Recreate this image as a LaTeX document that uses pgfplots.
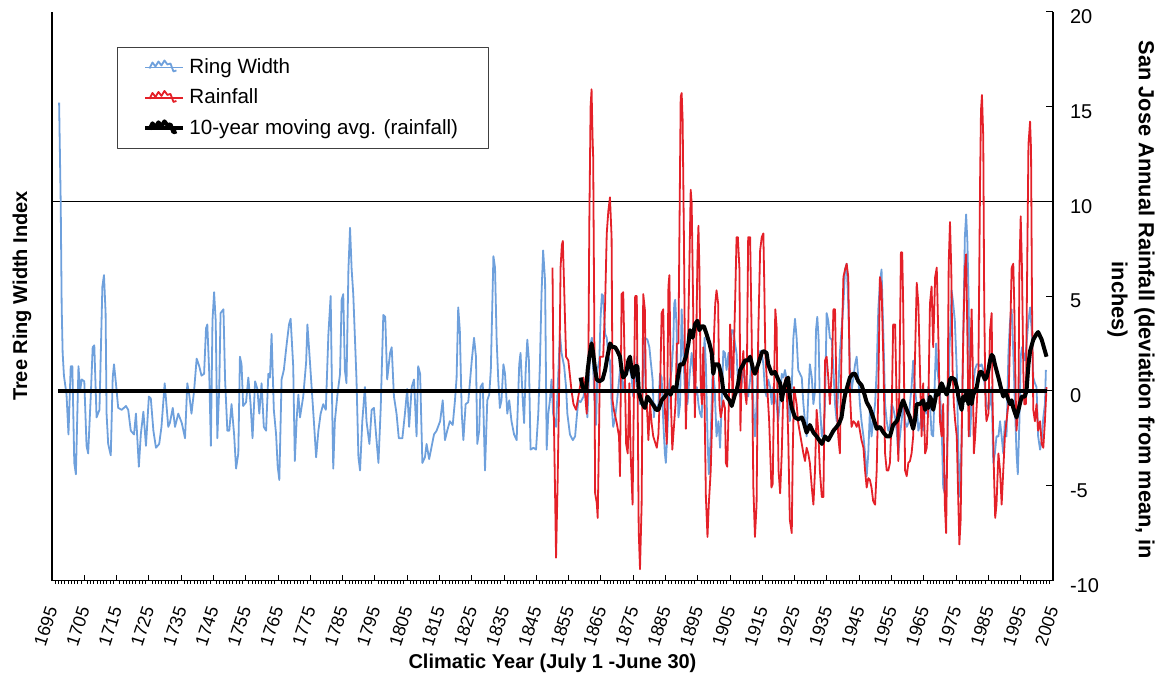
\documentclass[border=0pt]{standalone}
\usepackage{fontspec}
\setmainfont{Liberation Sans}
\usepackage{pgfplots}
\pgfplotsset{compat=1.18}
\definecolor{ringblue}{RGB}{110,160,220}
\definecolor{rainred}{RGB}{228,32,40}
\begin{document}
\begin{tikzpicture}
\useasboundingbox (-26pt,-48.25pt) rectangle (552.5pt,290.25pt);
\begin{axis}[
  at={(0,0)}, anchor=south west,
  scale only axis, width=500.5pt, height=284.5pt,
  xmin=1695, xmax=2005, ymin=-10, ymax=20,
  axis x line*=bottom, axis y line*=left,
  axis line style={black, line width=0.6pt, -},
  ytick=\empty,
  xtick={1695,1705,...,2005},
  minor x tick num=9,
  tick align=inside,
  major tick length=3pt,
  minor tick length=1.8pt,
  minor tick style={yshift=-1.8pt},
  tick style={black, line width=0.5pt},
  xticklabel style={font=\fontsize{9}{11}\selectfont, xshift=1pt, yshift=-10pt, rotate=72, anchor=east},
  /pgf/number format/1000 sep={},
  /pgf/number format/assume math mode=true,
  xlabel={Climatic Year (July 1 -June 30)},
  every axis x label/.style={at={(axis description cs:0.5,-0.146)}, anchor=center, font=\fontsize{10}{12}\selectfont\bfseries},
  ylabel={Tree Ring Width Index},
  every axis y label/.style={at={(axis description cs:-0.030,0.5)}, anchor=center, rotate=90, font=\fontsize{10}{12}\selectfont\bfseries},
  legend style={at={(axis description cs:0.0649,0.9376)}, anchor=north west, draw=black!75, line width=0.5pt, fill=white,
    font=\fontsize{10.3}{12.4}\selectfont, inner xsep=13pt, inner ysep=3.5pt, row sep=2.25pt, cells={anchor=west}},
  legend image code/.code={\path (-2pt,0) -- (17pt,0); \draw[#1] (0pt,-0.5pt) -- (1.5pt,2.5pt) -- (3pt,0.5pt) -- (4.5pt,3pt) -- (6pt,1pt) -- (7.5pt,3.5pt) -- (9pt,1.5pt) -- (10.5pt,2pt) -- (12pt,-2pt) -- (13.5pt,-1.5pt);},
  line join=round,
]
\draw[black, line width=0.5pt] (axis cs:1695,10) -- (axis cs:2005,10);
% Ring width
\addplot[ringblue, line width=0.9pt] coordinates {
(1697.2,15.2) (1697.7,9.9) (1698.0,4.4) (1698.3,2.0) (1698.7,0.8) (1699.5,-0.2) (1700.1,-2.3) (1700.8,1.3) (1701.3,1.3) (1701.9,-3.8) (1702.4,-4.4) (1703.2,1.3) (1703.7,0.0) (1704.2,0.6) (1705.0,0.5) (1705.7,-2.9) (1706.2,-3.3) (1707.0,-0.3) (1707.6,2.3) (1708.1,2.4) (1708.8,-1.4) (1709.7,-1.0) (1710.6,5.5) (1711.1,6.1) (1711.6,4.1) (1711.9,-1.2) (1712.4,-2.8) (1713.2,-3.4) (1713.8,0.7) (1714.2,1.4) (1714.8,0.4) (1715.5,-0.9) (1716.6,-1.0) (1717.9,-0.8) (1718.6,-1.0) (1719.4,-2.1) (1720.4,-2.3) (1721.0,-1.2) (1721.9,-4.0) (1722.5,-2.3) (1723.3,-1.1) (1724.1,-2.9) (1725.0,-0.3) (1725.6,-0.4) (1726.4,-2.1) (1727.2,-3.0) (1728.2,-2.8) (1728.9,-1.9) (1729.9,0.4) (1731.0,-1.9)
(1731.5,-1.7) (1732.4,-0.9) (1733.1,-1.9) (1734.1,-1.2) (1735.2,-1.7) (1736.2,-2.5) (1736.9,0.4) (1737.5,-0.2) (1738.2,-1.2) (1739.0,0.0) (1739.8,1.7) (1740.6,1.3) (1741.3,0.8) (1742.1,0.9) (1742.7,3.3) (1743.1,3.5) (1743.7,0.9) (1744.2,-2.9) (1744.7,3.7) (1745.2,5.2) (1745.7,3.7) (1746.2,-2.5) (1746.8,0.2) (1747.2,4.1) (1748.1,4.3) (1748.6,0.6) (1749.3,-2.1) (1749.9,-2.1) (1750.6,-0.7) (1751.4,-2.3) (1752.0,-4.1) (1752.7,-3.3) (1753.2,1.8) (1753.7,1.4) (1754.2,-0.8) (1755.1,-0.6) (1755.8,0.7) (1756.5,-0.7) (1757.1,-2.5) (1757.9,0.5) (1758.6,0.1) (1759.2,-1.2) (1759.9,0.4) (1760.6,-1.9) (1761.3,-2.1) (1762.0,0.9) (1762.5,0.7) (1763.0,3.0) (1763.7,-1.0) (1764.4,-2.3) (1764.9,-4.0) (1765.4,-4.7) (1766.1,0.6) (1766.8,1.1) (1767.7,2.5) (1768.4,3.5) (1768.9,3.8) (1769.7,1.3) (1770.2,-3.7) (1770.8,-1.4) (1771.3,-0.2)
(1771.8,-1.4) (1772.8,-0.3) (1773.7,1.5) (1774.1,3.5) (1774.7,2.0) (1775.4,0.2) (1776.1,-1.6) (1776.8,-3.5) (1777.5,-2.1) (1778.2,-1.2) (1779.0,-0.7) (1779.8,-1.0) (1780.6,3.0) (1781.3,5.0) (1781.8,-1.2) (1782.1,-4.1) (1782.6,-1.6) (1783.4,-0.2) (1784.2,0.9) (1784.7,4.8) (1785.2,5.1) (1785.7,1.1) (1786.2,0.4) (1786.8,6.4) (1787.3,8.6) (1787.8,6.4) (1788.3,5.1) (1789.3,0.6) (1789.9,-3.5) (1790.4,-4.2) (1791.1,-1.6) (1791.9,0.2) (1792.4,-1.6) (1793.3,-2.8) (1794.0,-1.0) (1794.7,-0.9) (1795.5,-2.6) (1796.1,-3.8) (1796.8,-0.9) (1797.6,4.0) (1798.2,3.9) (1798.8,0.6) (1799.7,2.0) (1800.2,2.3) (1800.9,-0.3) (1801.7,-1.2) (1802.4,-2.5) (1803.5,-2.5) (1804.3,-1.2) (1805.0,0.1) (1805.6,-1.9) (1806.4,0.2) (1807.1,0.6) (1807.9,-2.4) (1808.4,1.3) (1809.0,0.9) (1809.7,-3.8) (1810.5,-3.5) (1811.0,-2.8) (1811.8,-3.6)
(1813.3,-2.3) (1814.1,-2.1) (1815.2,-1.6) (1816.0,-0.5) (1816.7,-2.6) (1817.4,-2.1) (1818.2,-1.6) (1819.1,-1.8) (1819.8,-0.5) (1820.3,0.7) (1820.8,4.4) (1821.3,3.2) (1821.9,-1.2) (1822.4,-2.6) (1823.1,-0.7) (1823.9,-0.6) (1825.0,1.6) (1825.7,2.8) (1826.3,1.8) (1826.7,-2.8) (1827.3,-2.1) (1827.7,0.2) (1828.4,0.4) (1829.1,-4.2) (1829.8,-0.5) (1830.4,-0.2) (1830.9,1.1) (1831.7,7.1) (1832.2,6.5) (1832.7,2.7) (1833.2,0.6) (1833.7,-0.9) (1834.2,-0.5) (1834.8,1.4) (1835.3,0.9) (1836.0,-1.2) (1836.6,-0.5) (1837.3,-1.6) (1838.1,-2.3) (1838.9,-2.6) (1839.7,1.4) (1840.1,2.0) (1840.7,-0.2) (1841.2,-1.7) (1841.7,1.1) (1842.2,2.7) (1842.7,1.6) (1843.2,-3.1) (1844.1,-3.0) (1844.9,-3.1) (1845.6,-1.2) (1846.1,1.4) (1846.6,5.1) (1847.1,7.4) (1847.7,5.8) (1848.2,-3.1) (1848.7,-1.2) (1849.2,-0.5) (1849.7,0.6) (1850.2,-1.2) (1851.1,-1.9) (1851.8,0.9) (1852.3,3.0) (1852.8,2.0)
(1853.6,1.3) (1854.2,0.2) (1854.6,-1.2) (1855.4,-2.3) (1856.3,-2.6) (1857.0,-2.4) (1857.5,-1.4) (1858.0,-0.5) (1858.7,-0.6) (1859.6,-0.3) (1860.1,0.2) (1860.8,-1.4) (1861.4,1.1) (1861.8,2.5) (1862.2,2.8) (1862.6,1.1) (1863.1,-0.7) (1863.5,-1.8) (1863.9,1.1) (1864.5,1.6) (1864.9,3.9) (1865.3,5.1) (1865.7,5.0) (1866.3,3.0) (1866.8,2.8) (1867.3,1.8) (1867.8,1.6) (1868.3,-0.7) (1868.8,-1.9) (1869.4,-1.4) (1869.9,-0.7) (1870.4,0.2) (1870.9,1.1) (1871.4,0.7) (1871.9,0.0) (1872.4,0.7) (1872.9,0.9) (1873.8,1.3) (1874.5,0.7) (1875.0,-0.3) (1875.6,0.6) (1876.1,1.8) (1876.6,0.0) (1877.1,-0.7) (1877.6,-0.5) (1878.1,0.2) (1878.6,2.8) (1879.4,2.7) (1880.0,2.3) (1880.4,1.6) (1881.0,0.6) (1881.4,-1.4) (1881.7,-0.7) (1882.3,-1.0) (1882.8,-0.7) (1883.3,0.9) (1883.8,0.7) (1884.3,-1.6) (1884.8,-3.3) (1885.1,-3.8) (1885.6,-2.1) (1886.2,0.4) (1886.9,1.1) (1887.4,2.5) (1887.7,4.6) (1888.0,4.8) (1888.4,3.5) (1889.0,-1.4) (1889.5,-0.7)
(1890.0,4.3) (1890.5,2.0) (1891.0,0.0) (1891.8,-0.7) (1892.6,1.1) (1893.1,2.0) (1893.6,1.1) (1894.1,-0.3) (1894.7,0.2) (1895.2,-0.7) (1895.7,-1.2) (1896.2,-1.4) (1896.7,1.1) (1897.1,2.8) (1897.5,1.4) (1898.0,-2.4) (1898.4,-4.4) (1899.0,-2.4) (1899.6,1.1) (1900.2,0.2) (1900.8,-2.4) (1901.4,-1.6) (1901.9,-3.0) (1902.4,-0.7) (1902.9,2.1) (1903.4,2.0) (1903.9,1.1) (1904.5,2.0) (1905.0,0.7) (1905.5,3.2) (1906.0,3.2) (1906.5,2.5) (1907.0,2.0) (1907.5,0.2) (1908.1,-0.3) (1908.6,0.4) (1909.1,1.1) (1909.6,0.6) (1910.1,0.0) (1910.6,-0.3) (1911.2,0.6) (1911.7,2.0) (1912.2,-0.7) (1912.7,-2.4) (1913.2,-0.7) (1913.7,2.0) (1914.3,2.1) (1914.8,2.0) (1915.3,1.4) (1915.8,0.0) (1916.3,-0.3) (1916.8,0.6) (1917.4,0.2) (1917.9,-0.7) (1918.4,0.2) (1918.9,-0.3) (1919.4,-0.7) (1919.9,-1.6) (1920.5,-0.3) (1921.0,0.9) (1921.5,0.7) (1922.0,1.1) (1922.5,0.6) (1923.0,-0.7) (1923.5,-1.6) (1924.1,0.2) (1924.6,2.8) (1925.1,3.8) (1925.6,2.8) (1926.1,1.1)
(1927.2,0.7) (1927.7,-0.7) (1928.2,-1.6) (1928.7,-2.4) (1929.2,-0.3) (1929.7,1.4) (1930.3,0.7) (1930.8,-0.7) (1931.3,0.0) (1931.6,3.2) (1932.0,3.9) (1932.4,2.8) (1932.8,-0.7) (1933.4,-2.4) (1933.9,-2.1) (1934.4,-0.7) (1934.9,4.1) (1935.4,3.7) (1935.9,2.8) (1936.5,2.7) (1937.0,1.1) (1937.5,-0.7) (1938.0,-1.6) (1938.5,0.0) (1939.0,2.0) (1939.5,3.2) (1940.1,4.6) (1940.6,6.4) (1941.1,6.7) (1941.6,4.6) (1942.1,1.1) (1942.6,0.0) (1943.2,0.7) (1943.7,1.4) (1944.2,1.8) (1944.7,0.7) (1945.2,-0.7) (1945.7,-1.6) (1946.3,-2.4) (1946.8,-3.3) (1947.3,-4.5) (1947.8,-3.3) (1948.3,-1.0) (1948.8,-2.4) (1949.3,-1.6) (1949.9,-0.7) (1950.4,1.1) (1950.9,4.3) (1951.4,5.7) (1951.9,6.4) (1952.5,2.8) (1953.0,-0.7) (1953.5,-1.6) (1954.0,-2.1) (1954.5,-1.9) (1955.0,-0.7) (1955.5,-0.9) (1956.1,-1.4) (1956.6,-2.1) (1957.1,-3.3) (1957.6,-2.4) (1958.1,-1.6) (1958.6,-0.7) (1959.2,-1.6) (1959.7,-1.9) (1960.2,-1.7) (1960.7,-0.7) (1961.2,0.2) (1961.7,1.6) (1962.3,0.0) (1962.8,-0.7) (1963.3,-2.1)
(1964.3,-1.4) (1964.8,-2.1) (1965.4,-0.7) (1965.9,-1.2) (1966.4,0.2) (1966.9,-0.7) (1967.4,-2.3) (1967.9,-2.4) (1968.5,1.1) (1968.8,2.5) (1969.2,1.1) (1969.8,0.2) (1970.2,-0.7) (1970.6,-2.4) (1971.0,-5.1) (1971.5,-5.4) (1972.1,-4.2) (1972.6,-0.7) (1972.9,2.0) (1973.3,3.7) (1973.6,5.3) (1974.1,4.6) (1974.6,3.7) (1975.2,1.1) (1975.7,-3.3) (1976.2,-5.6) (1976.7,-2.4) (1977.2,2.8) (1977.7,8.1) (1978.1,9.3) (1978.5,7.8) (1978.9,4.6) (1979.3,-2.4) (1979.8,-0.7) (1980.3,0.2) (1980.8,1.1) (1981.4,1.4) (1981.9,1.4) (1982.4,1.3) (1982.9,1.4) (1983.4,1.1) (1983.9,0.2) (1984.4,-0.7) (1985.0,-1.0) (1985.5,-0.7) (1986.0,0.2) (1986.5,-3.8) (1987.0,-3.3) (1987.5,-2.4) (1988.1,-2.4) (1988.6,-1.6) (1989.1,-2.4) (1989.6,-3.3) (1990.1,-1.6) (1990.6,-2.4) (1991.2,2.0) (1991.7,3.7) (1992.2,4.3) (1992.7,2.0) (1993.2,-0.7) (1993.7,-3.3) (1994.1,-4.4) (1994.6,-1.6) (1995.0,1.8) (1995.4,2.3) (1995.8,2.0) (1996.3,1.6) (1996.8,2.5) (1997.4,3.7) (1997.9,4.4) (1998.4,3.2) (1998.9,0.7) (1999.4,0.4) (1999.9,0.2) (2000.4,-2.4) (2001.0,-3.1) (2001.5,-2.6) (2002.0,-1.4) (2002.5,-0.7) (2002.8,1.1)
};
\addlegendentry{Ring Width}
% Rainfall
\addplot[rainred, line width=0.9pt] coordinates {
(1850.0,6.5) (1850.4,-1.2) (1850.9,-6.5) (1851.1,-8.8) (1851.6,-4.7) (1852.1,0.6) (1852.5,6.5) (1852.9,7.7) (1853.2,7.9) (1853.6,5.5) (1854.2,1.8) (1854.9,1.6) (1855.9,0.0) (1856.5,-0.7) (1857.3,-1.0) (1858.0,-0.3) (1858.7,0.4) (1859.6,0.7) (1860.1,-0.2) (1860.6,-1.2) (1861.1,1.1) (1861.4,8.8) (1861.8,15.0) (1862.1,15.9) (1862.4,13.4) (1862.6,12.3) (1862.9,4.6) (1863.2,-5.4) (1863.7,-5.9) (1864.0,-6.7) (1864.4,-2.4) (1864.7,1.8) (1865.7,1.8) (1866.3,4.6) (1866.8,8.3) (1867.3,9.5) (1867.8,10.2) (1868.3,8.1) (1868.6,-0.5) (1869.0,-1.0) (1869.9,-1.7) (1870.6,-2.4) (1870.9,-4.5) (1871.4,5.1) (1871.9,5.2) (1872.4,1.1) (1872.8,-2.8) (1873.3,-3.3) (1873.8,0.4) (1874.2,-3.3) (1874.8,-6.0) (1875.2,-0.3) (1875.6,5.0) (1876.1,5.0) (1876.4,-1.0) (1876.7,-7.4) (1877.1,-9.4) (1877.6,-6.0) (1878.1,5.1) (1878.6,4.3) (1878.9,0.2) (1879.4,-1.4) (1879.7,-2.6) (1880.2,-0.7) (1880.7,-1.7) (1881.2,-2.4) (1882.3,-3.0) (1882.8,-2.3) (1883.3,0.0) (1883.8,4.1) (1884.3,4.3) (1884.8,-1.0) (1885.4,-2.8) (1885.9,5.5) (1886.2,6.1) (1886.7,-0.7) (1887.1,-3.1) (1887.6,-1.9) (1888.1,-0.7) (1888.5,2.5) (1889.0,2.5) (1889.3,8.1) (1889.7,15.5)
(1890.0,15.7) (1890.3,14.3) (1890.7,8.1) (1891.0,2.0) (1891.3,-2.0) (1891.8,1.1) (1892.3,5.7) (1892.8,10.6) (1893.1,9.9) (1893.4,6.4) (1893.8,1.4) (1894.1,-1.4) (1894.4,1.1) (1894.9,7.2) (1895.2,8.7) (1895.5,6.4) (1895.9,0.2) (1896.3,-0.7) (1896.7,2.3) (1897.1,-0.7) (1897.5,-5.6) (1898.0,-7.7) (1898.4,-6.0) (1899.0,-4.2) (1899.6,-0.5) (1900.0,2.8) (1900.4,4.6) (1900.8,5.3) (1901.3,4.6) (1901.7,-0.7) (1902.1,-1.4) (1902.5,-1.0) (1902.9,-0.5) (1903.4,-0.9) (1903.7,-3.8) (1904.1,-4.0) (1904.6,-0.7) (1905.0,3.5) (1905.4,2.3) (1905.8,-0.7) (1906.2,2.3) (1906.6,5.0) (1907.0,8.1) (1907.4,8.1) (1907.9,6.4) (1908.2,-2.1) (1908.6,1.1) (1909.1,2.1) (1909.6,0.0) (1910.1,-0.7) (1910.6,8.1) (1911.2,8.1) (1911.7,2.8) (1912.2,-5.1) (1912.7,-7.7) (1913.2,-6.0) (1913.7,2.8) (1914.3,7.4) (1914.8,8.1) (1915.3,8.3) (1915.6,5.5) (1915.9,2.0) (1916.5,0.2) (1917.1,-1.6) (1917.8,-5.1) (1918.2,-4.9) (1918.7,1.1) (1919.0,4.3) (1919.4,3.4) (1919.7,-0.7) (1920.0,-4.2) (1920.5,-5.4) (1921.0,-3.3) (1921.5,0.2) (1922.3,0.7) (1922.7,-0.7) (1923.0,-2.4) (1923.5,-6.8) (1924.1,-7.5) (1924.4,-3.3) (1924.8,0.2) (1925.6,-0.7) (1926.1,-1.7)
(1927.7,-3.3) (1928.2,-3.7) (1928.7,-3.0) (1929.2,-3.3) (1929.7,-3.8) (1930.3,-5.1) (1930.8,-6.0) (1931.3,-4.2) (1931.8,-1.0) (1932.3,-2.1) (1932.8,-4.2) (1933.4,-5.6) (1933.9,-5.6) (1934.4,1.6) (1934.9,1.8) (1935.4,0.7) (1935.9,-0.7) (1936.5,1.1) (1937.0,4.3) (1937.5,4.3) (1938.0,-0.7) (1938.5,-2.4) (1939.0,-3.3) (1939.5,2.0) (1940.1,6.0) (1940.6,6.4) (1941.1,6.7) (1941.6,6.0) (1942.1,0.0) (1942.6,-1.9) (1943.2,-1.6) (1943.7,-1.7) (1944.2,-1.9) (1944.7,-1.6) (1945.2,-2.1) (1945.7,-2.6) (1946.3,-3.0) (1946.8,-4.2) (1947.3,-5.1) (1947.8,-4.6) (1948.3,-4.7) (1948.8,-5.1) (1949.3,-5.8) (1949.9,-6.0) (1950.4,-4.2) (1950.9,0.0) (1951.4,6.0) (1951.9,5.5) (1952.5,1.4) (1953.0,-3.3) (1953.5,-4.2) (1954.0,-4.2) (1954.5,-3.8) (1955.0,-1.6) (1955.5,3.5) (1956.1,3.5) (1956.6,-0.7) (1957.1,-3.7) (1957.6,2.8) (1957.9,7.3) (1958.3,7.3) (1958.6,4.6) (1959.2,-4.2) (1959.7,-4.5) (1960.2,-3.8) (1960.7,-3.7) (1961.2,-3.3) (1961.7,-2.4) (1962.3,2.0) (1962.8,5.7) (1963.3,4.6)
(1964.3,-2.4) (1964.8,0.4) (1965.4,-3.3) (1965.9,-3.0) (1966.4,-0.7) (1966.9,4.6) (1967.4,5.5) (1967.9,2.3) (1968.5,6.0) (1969.0,6.5) (1969.5,2.8) (1970.0,-1.6) (1970.5,-2.4) (1971.0,-0.7) (1971.5,-6.0) (1971.9,-7.5) (1972.3,-2.4) (1972.7,6.7) (1973.1,8.9) (1973.5,6.4) (1973.9,1.1) (1974.3,-0.7) (1974.7,-1.6) (1975.2,-2.4) (1975.7,-6.0) (1976.0,-8.1) (1976.4,-6.8) (1976.8,-1.6) (1977.2,2.8) (1977.7,6.4) (1978.1,7.2) (1978.5,2.8) (1978.9,-2.4) (1979.3,1.1) (1979.8,4.3) (1980.1,1.8) (1980.5,-3.3) (1980.9,-2.4) (1981.4,-0.7) (1981.9,1.1) (1982.4,10.8) (1982.7,14.8) (1983.0,15.6) (1983.4,13.4) (1983.7,4.6) (1984.1,-0.7) (1984.4,-1.6) (1985.0,-1.2) (1985.5,3.2) (1986.0,4.1) (1986.3,-0.7) (1986.7,-4.2) (1987.1,-6.7) (1987.5,-6.0) (1988.1,-3.3) (1988.6,-4.2) (1989.1,-6.0) (1989.6,-4.2) (1990.1,-2.4) (1990.6,-1.6) (1991.2,-0.7) (1991.7,2.8) (1992.2,6.5) (1992.7,6.7) (1993.0,4.6) (1993.4,0.2) (1993.7,-2.1) (1994.3,-0.7) (1994.6,6.4) (1995.0,9.2) (1995.4,6.4) (1995.8,1.1) (1996.1,-0.7) (1996.6,-0.7) (1997.0,6.4) (1997.4,13.0) (1997.9,14.2) (1998.2,12.7) (1998.5,4.6) (1998.9,-1.0) (1999.4,-1.6) (1999.9,-0.7) (2000.4,-2.1) (2001.0,-1.6) (2001.5,-2.8) (2002.0,-3.0) (2002.5,-1.6) (2003.0,0.2)
};
\addlegendentry{Rainfall}
% zero line
\addplot[black, line width=1.8pt, forget plot] coordinates {(1697,0) (2003,0)};
% 10-year moving average
\addplot[black, line width=2pt] coordinates {
(1858.7,0.7) (1859.3,0.2) (1860.4,0.0) (1860.9,1.1) (1861.4,1.8) (1862.1,2.5) (1862.6,2.0) (1863.2,1.1) (1863.7,0.6) (1864.5,0.5) (1865.5,0.6) (1866.3,1.1) (1867.0,1.8) (1867.8,2.5) (1868.6,2.3) (1869.4,2.3) (1870.1,2.1) (1870.9,1.8) (1871.4,1.1) (1871.9,0.7) (1872.8,0.9) (1873.5,1.6) (1874.0,1.8) (1874.5,1.1) (1875.0,0.7) (1875.6,1.3) (1876.3,1.3) (1876.7,0.0) (1877.1,-0.3) (1877.9,-0.7) (1878.6,-0.9) (1879.4,-0.3) (1880.2,-0.5) (1881.0,-0.7) (1882.1,-1.0) (1882.8,-1.0) (1883.8,-0.5) (1884.8,-0.3) (1885.9,0.0) (1886.6,-0.2) (1887.4,0.2) (1888.2,0.0) (1889.0,0.9) (1889.5,1.4)
(1890.5,1.4) (1891.3,1.8) (1892.1,2.5) (1892.6,3.2) (1893.4,2.8) (1894.1,3.5) (1894.9,3.7) (1895.5,3.2) (1896.2,3.4) (1896.9,3.4) (1897.7,3.0) (1898.6,2.5) (1899.3,2.0) (1899.8,0.9) (1900.3,1.4) (1901.4,1.4) (1901.9,1.1) (1902.4,0.7) (1902.9,0.0) (1903.9,-0.3) (1904.8,-0.5) (1905.5,-0.8) (1906.0,-0.5) (1906.5,-0.2) (1907.0,0.0) (1907.5,0.4) (1908.1,1.1) (1909.1,1.4) (1909.6,1.6) (1910.6,1.6) (1911.2,1.8) (1912.2,1.1) (1912.7,0.9) (1913.7,1.4) (1914.8,2.0) (1915.3,2.1) (1916.3,2.0) (1916.8,1.4) (1917.9,0.9) (1918.9,1.0) (1919.9,0.6) (1920.5,0.4) (1921.0,-0.5) (1921.5,0.0) (1922.5,0.6) (1923.0,0.7) (1923.5,-0.3) (1924.1,-0.9) (1925.1,-1.4) (1926.1,-1.5) (1927.2,-1.4) (1927.7,-1.6) (1928.2,-1.9) (1928.7,-2.2)
(1929.7,-1.8) (1930.8,-2.2) (1931.8,-2.4) (1933.4,-2.8) (1934.4,-2.4) (1935.4,-2.6) (1937.0,-2.1) (1938.0,-1.9) (1938.8,-1.7) (1939.5,-1.4) (1940.1,-0.7) (1940.6,-0.2) (1941.6,0.4) (1942.1,0.7) (1943.0,0.9) (1943.7,0.9) (1944.7,0.5) (1945.7,0.3) (1946.3,0.0) (1947.3,-0.6) (1948.3,-0.9) (1949.3,-1.4) (1950.4,-2.0) (1951.4,-1.9) (1952.5,-2.2) (1953.5,-2.4) (1954.5,-2.4) (1955.5,-1.8) (1956.6,-1.6) (1957.1,-1.4) (1958.1,-0.7) (1958.6,-0.5) (1959.7,-1.0) (1960.7,-1.4) (1961.7,-2.0) (1962.3,-1.5) (1962.8,-0.7) (1963.8,-0.7)
(1964.8,-0.5) (1965.4,-1.0) (1965.9,-0.7) (1966.4,-0.9) (1966.9,-0.3) (1967.4,-0.5) (1967.9,-1.0) (1968.5,-0.5) (1969.0,0.0) (1969.5,-0.2) (1970.0,0.2) (1970.5,0.4) (1971.5,0.0) (1972.1,-0.2) (1973.1,0.6) (1973.6,0.7) (1974.6,0.6) (1975.2,0.2) (1975.7,-0.3) (1976.7,-1.0) (1977.2,-0.3) (1977.7,-0.5) (1978.3,0.0) (1978.8,-0.7) (1979.3,0.0) (1979.8,-0.7) (1980.3,-0.2) (1981.4,0.2) (1981.9,0.7) (1982.4,1.0) (1982.9,1.0) (1983.9,0.6) (1984.4,0.7) (1985.0,1.1) (1985.5,1.6) (1986.0,1.9) (1986.5,1.8) (1987.0,1.4) (1988.1,0.7) (1989.1,0.0) (1989.6,-0.3) (1990.1,0.0) (1990.6,-0.2) (1991.7,-0.7) (1992.2,-0.5) (1992.7,-0.9) (1993.7,-1.4) (1994.3,-1.0) (1995.3,-0.3) (1996.3,-0.3) (1996.8,0.0) (1997.4,1.4) (1997.9,2.1) (1998.9,2.7) (1999.9,3.0) (2000.4,3.1) (2001.5,2.7) (2002.5,2.1) (2003.0,1.8)
};
\addlegendentry{10-year moving avg. (rainfall)}
\end{axis}
\begin{axis}[
  at={(0,0)}, anchor=south west,
  scale only axis, width=500.5pt, height=284.5pt,
  xmin=1695, xmax=2005, ymin=-10, ymax=20,
  axis x line=none, axis y line*=right,
  axis line style={black, line width=0.6pt, -},
  ytick={-10,-5,...,20},
  tick align=inside, major tick length=3.5pt,
  tick style={black, line width=0.5pt},
  yticklabel style={font=\fontsize{10}{12}\selectfont, xshift=5pt, yshift=-2.5pt},
  /pgf/number format/assume math mode=true,
  ylabel={San Jose Annual Rainfall (deviation from mean, in\\inches)},
  every axis y label/.style={at={(axis description cs:1.078,0.493)}, anchor=center, rotate=-90, align=center, font=\fontsize{10.9}{13.5}\selectfont\bfseries},
]
\end{axis}
\end{tikzpicture}
\end{document}
